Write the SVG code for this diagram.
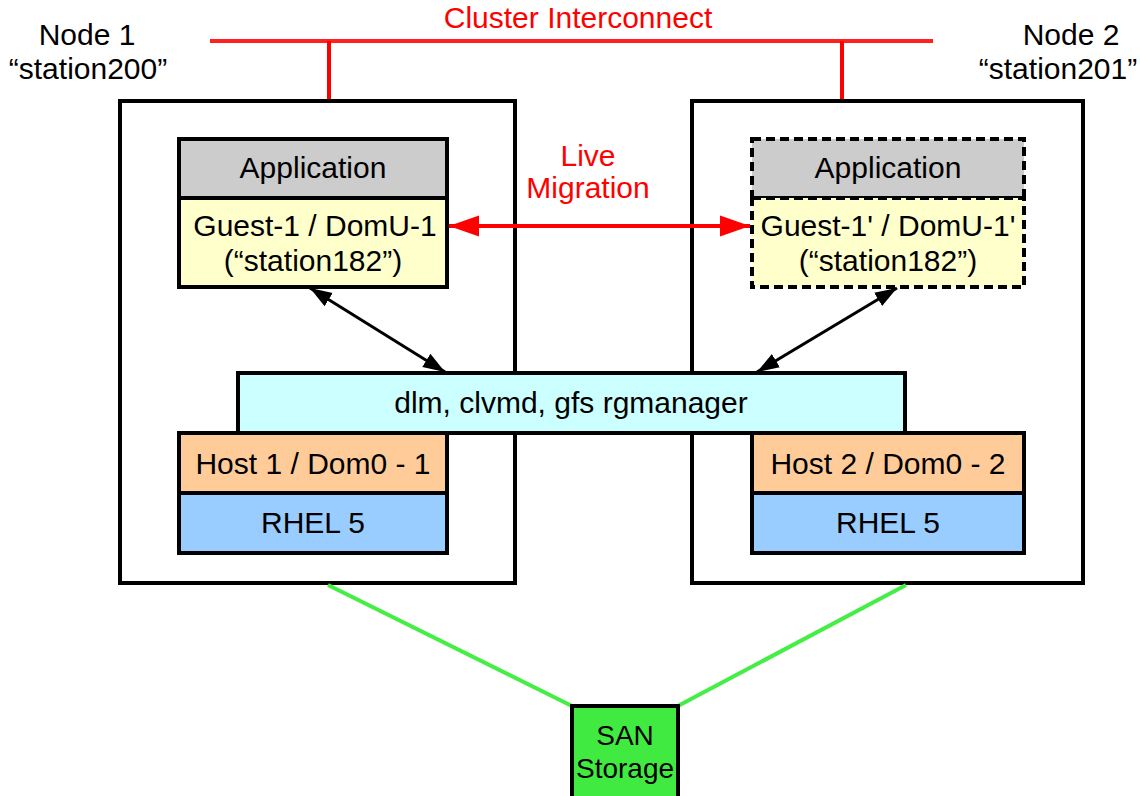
<svg xmlns="http://www.w3.org/2000/svg" width="1140" height="796" viewBox="0 0 1140 796">
<defs>
<style>
text{font-family:"Liberation Sans",Arial,sans-serif;font-size:30px;fill:#000;text-anchor:middle}
.red{fill:#ff0000}
.box{stroke:#000;stroke-width:4}
.dash{stroke:#000;stroke-width:4;stroke-dasharray:9 5}
.outer{fill:#fff;stroke:#000;stroke-width:4}
.san{font-size:28px}
</style>
<marker id="ar" viewBox="0 0 10 10" refX="10" refY="5" markerWidth="30" markerHeight="30" markerUnits="userSpaceOnUse" orient="auto-start-reverse"><path d="M0,1.5 L10,5 L0,8.5 z" fill="#ff0000"/></marker>
<marker id="ahb" viewBox="0 0 10 10" refX="10" refY="5" markerWidth="22" markerHeight="22" markerUnits="userSpaceOnUse" orient="auto-start-reverse"><path d="M0,1.5 L10,5 L0,8.5 z" fill="#000"/></marker>
</defs>
<rect width="1140" height="796" fill="#fff"/>
<g id="interconnect">
<line x1="210" y1="41" x2="933" y2="41" stroke="#ff2020" stroke-width="4"/>
<line x1="329" y1="41" x2="329" y2="101" stroke="#ff0000" stroke-width="4"/>
<line x1="842" y1="41" x2="842" y2="101" stroke="#ff0000" stroke-width="4"/>
<text x="578" y="28" class="red">Cluster Interconnect</text>
</g>
<g id="node1-label"><text x="87" y="45">Node 1</text><text x="88" y="79">“station200”</text></g>
<g id="node2-label"><text x="1071" y="45">Node 2</text><text x="1058" y="79">“station201”</text></g>
<g id="node1"><rect x="120" y="101" width="395" height="482" class="outer"/></g>
<g id="node2"><rect x="692" y="101" width="391" height="482" class="outer"/></g>
<g id="connectors">
<line x1="449" y1="226" x2="750" y2="226" stroke="#ff0000" stroke-width="4" marker-start="url(#ar)" marker-end="url(#ar)"/>
<line x1="310" y1="288" x2="445" y2="372" stroke="#000" stroke-width="3" marker-start="url(#ahb)" marker-end="url(#ahb)"/>
<line x1="897" y1="288" x2="757" y2="372" stroke="#000" stroke-width="3" marker-start="url(#ahb)" marker-end="url(#ahb)"/>
<line x1="328" y1="585" x2="574" y2="707" stroke="#44ee44" stroke-width="4"/>
<line x1="906" y1="585" x2="676" y2="707" stroke="#44ee44" stroke-width="4"/>
</g>
<g id="live-migration-label"><text x="588" y="166" class="red">Live</text><text x="588" y="198" class="red">Migration</text></g>
<g id="app1"><rect x="179" y="139" width="268" height="59" fill="#cccccc" class="box"/><text x="313" y="178">Application</text></g>
<g id="guest1"><rect x="179" y="198" width="268" height="89" fill="#ffffcc" class="box"/><text x="315" y="236">Guest-1 / DomU-1</text><text x="313" y="271">(“station182”)</text></g>
<g id="app2"><rect x="752" y="139" width="272" height="59" fill="#cccccc" class="dash"/><text x="888" y="178">Application</text></g>
<g id="guest2"><rect x="752" y="198" width="272" height="89" fill="#ffffcc" class="dash"/><text x="888" y="236">Guest-1' / DomU-1'</text><text x="888" y="271">(“station182”)</text></g>
<g id="cluster-services"><rect x="238" y="373" width="667" height="60" fill="#ccffff" class="box"/><text x="571" y="413">dlm, clvmd, gfs rgmanager</text></g>
<g id="host1"><rect x="179" y="433" width="268" height="60" fill="#ffcc99" class="box"/><text x="313" y="474">Host 1 / Dom0 - 1</text></g>
<g id="rhel1"><rect x="179" y="493" width="268" height="60" fill="#99ccff" class="box"/><text x="313" y="533">RHEL 5</text></g>
<g id="host2"><rect x="752" y="433" width="272" height="60" fill="#ffcc99" class="box"/><text x="888" y="474">Host 2 / Dom0 - 2</text></g>
<g id="rhel2"><rect x="752" y="493" width="272" height="60" fill="#99ccff" class="box"/><text x="888" y="533">RHEL 5</text></g>
<g id="san"><rect x="572" y="706" width="106" height="92" fill="#40ea40" class="box"/><text x="625" y="745" class="san">SAN</text><text x="625" y="778" class="san">Storage</text></g>
</svg>
